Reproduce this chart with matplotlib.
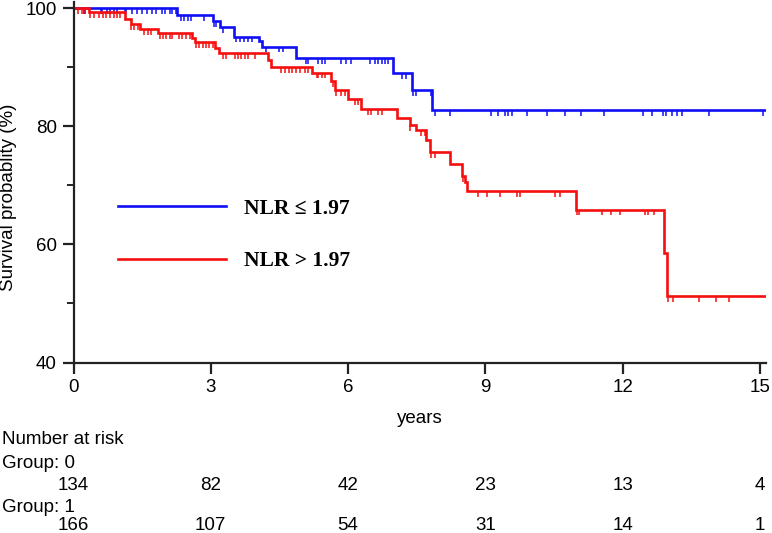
import matplotlib
matplotlib.use("Agg")
import matplotlib.pyplot as plt
import matplotlib.transforms as mtransforms
import numpy as np

plt.rcParams["font.family"] = ["Liberation Sans", "DejaVu Sans"]

# Kaplan-Meier steps (time in years, survival in %)
BLUE_T = [0, 2.27, 3.05, 3.20, 3.50, 4.05, 4.12, 4.87, 6.97, 7.40, 7.84]
BLUE_S = [100, 98.9, 97.9, 96.8, 95.2, 94.4, 93.5, 91.5, 89.0, 86.2, 82.8]

RED_T = [0, 0.33, 1.12, 1.25, 1.45, 1.84, 2.58, 2.65, 3.10, 3.17, 4.25, 4.31,
         5.20, 5.63, 5.71, 6.00, 6.29, 7.06, 7.35, 7.49, 7.70, 7.78, 8.22,
         8.48, 8.55, 8.59, 10.98, 12.90, 12.96]
RED_S = [100, 99.4, 98.2, 97.3, 96.5, 95.8, 95.0, 94.2, 93.3, 92.4, 91.2, 90.1,
         89.1, 87.6, 86.2, 84.6, 82.9, 81.4, 80.2, 79.3, 77.6, 75.7, 73.6,
         71.6, 70.5, 69.1, 65.9, 58.6, 51.3]

FOLLOW_END = 15.2

# censoring times
BLUE_CENS = [0.24, 0.26, 0.59, 0.63, 0.74, 0.79, 0.88, 0.96, 1.12, 1.15, 1.28,
             1.39, 1.50, 1.61, 1.72, 1.81, 1.94, 2.01, 2.10, 2.16, 2.23,
             2.35, 2.42, 2.50, 2.57, 2.86, 3.08, 3.12, 3.27, 3.56, 3.64, 3.72,
             3.82, 3.89, 4.21, 4.50, 4.57, 5.09, 5.12, 5.34, 5.42, 5.49, 5.85,
             5.96, 6.07, 6.47, 6.58, 6.66, 6.73, 6.80, 6.87, 7.17, 7.26, 7.42,
             7.48, 7.82, 7.89, 8.22, 9.13, 9.28, 9.43, 9.50, 9.57, 9.90,
             10.35, 10.74, 11.08, 11.58, 12.45, 12.63, 12.89, 12.95, 13.07,
             13.18, 13.29, 13.89, 15.07]
RED_CENS = [0.10, 0.19, 0.24, 0.37, 0.45, 0.55, 0.65, 0.72, 0.80, 0.88, 0.95,
            1.02, 1.26, 1.33, 1.41, 1.54, 1.62, 1.70, 1.88, 1.96, 2.03, 2.10,
            2.16, 2.30, 2.38, 2.46, 2.54, 2.68, 2.75, 2.82, 2.90, 2.97, 3.04,
            3.27, 3.34, 3.52, 3.60, 3.67, 3.74, 3.81, 3.96, 4.54, 4.62, 4.70,
            4.78, 4.86, 4.94, 5.05, 5.12, 5.31, 5.34, 5.42, 5.49, 5.67, 5.74,
            5.85, 5.93, 6.14, 6.22, 6.44, 6.51, 6.66, 6.73, 7.35, 7.60, 7.68,
            7.82, 7.89, 8.51, 8.84, 9.03, 9.32, 9.68, 9.75, 10.52, 10.64,
            10.99, 11.05, 11.54, 11.74, 11.94, 12.49, 12.56, 12.69, 12.98,
            13.10, 13.67, 14.03, 14.32]

RISK_TIMES = [0, 3, 6, 9, 12, 15]
RISK_G0 = [134, 82, 42, 23, 13, 4]
RISK_G1 = [166, 107, 54, 31, 14, 1]

LABEL_BLUE = "NLR ≤ 1.97"
LABEL_RED = "NLR > 1.97"

BLUE = "#1010f5"
RED = "#f51010"
FS = 13.5


def km(ax, t, s, cens, color, label):
    tt = list(t) + [FOLLOW_END]
    ss = list(s) + [s[-1]]
    ax.step(tt, ss, where="post", color=color, lw=1.9, label=label,
            solid_joinstyle="miter")
    idx = np.searchsorted(t, cens, side="right") - 1
    sc = np.array(s)[idx]
    ax.vlines(cens, sc - 1.0, sc, color=color, lw=1.1)


fig = plt.figure(figsize=(7.72, 5.33), dpi=100)
ax = fig.add_axes([73.5 / 772, 1 - 362.5 / 533, (766 - 73.5) / 772, 360.5 / 533])

km(ax, BLUE_T, BLUE_S, BLUE_CENS, BLUE, LABEL_BLUE)
km(ax, RED_T, RED_S, RED_CENS, RED, LABEL_RED)

ax.set_xlim(0, 15.13)
ax.set_ylim(40, 101.05)
ax.set_xticks(RISK_TIMES)
ax.set_yticks([40, 60, 80, 100])
ax.set_yticks([50, 70, 90], minor=True)
ax.tick_params(axis="both", which="major", length=8, width=1.6, labelsize=FS,
               pad=4, color="#222222")
ax.tick_params(axis="y", which="minor", length=5, width=1.4, color="#222222")
for side in ("top", "right"):
    ax.spines[side].set_visible(False)
for side in ("left", "bottom"):
    ax.spines[side].set_linewidth(1.6)
    ax.spines[side].set_color("#222222")

ax.set_xlabel("years", fontsize=FS, labelpad=10)
fig.text(9 / 772, 1 - 197 / 533, "Survival probablity (%)", rotation=90,
         ha="center", va="center", fontsize=FS)

ax.legend(loc="upper left", bbox_to_anchor=(0.0643, 0.4537), frameon=False,
          borderpad=0, borderaxespad=0, handlelength=5.0, handletextpad=0.84,
          labelspacing=1.5,
          prop={"family": "Liberation Serif", "weight": "bold", "size": 15.5})

# number at risk table
trans = mtransforms.blended_transform_factory(ax.transData, fig.transFigure)
fig.text(2 / 772, 1 - 440 / 533, "Number at risk", fontsize=FS, va="center")
fig.text(2 / 772, 1 - 463 / 533, "Group: 0", fontsize=FS, va="center")
fig.text(2 / 772, 1 - 507 / 533, "Group: 1", fontsize=FS, va="center")
for x, n0, n1 in zip(RISK_TIMES, RISK_G0, RISK_G1):
    ax.text(x, 1 - 485 / 533, str(n0), transform=trans, ha="center",
            va="center", fontsize=FS, clip_on=False)
    ax.text(x, 1 - 525 / 533, str(n1), transform=trans, ha="center",
            va="center", fontsize=FS, clip_on=False)

fig.savefig("out.png", dpi=100)
